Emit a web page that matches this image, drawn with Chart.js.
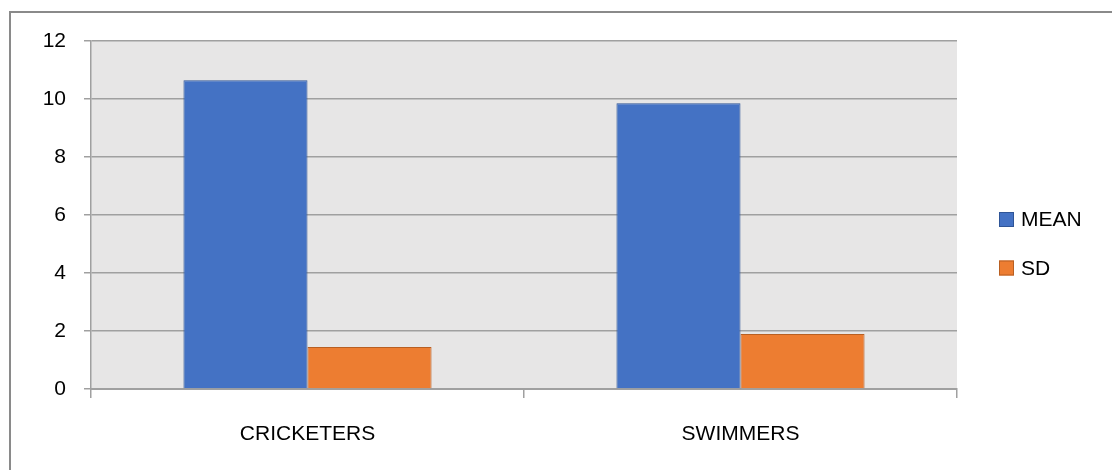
<!DOCTYPE html>
<html>
<head>
<meta charset="utf-8">
<script src="https://cdn.jsdelivr.net/npm/chart.js@4.4.1/dist/chart.umd.min.js"></script>
<style>
  html, body { margin: 0; padding: 0; background: #ffffff; }
  #wrap { position: relative; width: 1112px; height: 470px; overflow: hidden; }
  #frame { position: absolute; left: 9px; top: 11px; width: 1200px; height: 600px;
           border-left: 2px solid #8a8a8a; border-top: 2px solid #8a8a8a; box-sizing: border-box; }
  canvas { position: absolute; left: 0; top: 0; }
</style>
</head>
<body>
<div id="wrap">
  <div id="frame"></div>
  <canvas id="c" width="1112" height="470"></canvas>
</div>
<script>
const categories = ["CRICKETERS", "SWIMMERS"];
const meanValues = [10.65, 9.85];
const sdValues = [1.45, 1.9];
const yTicks = [0, 2, 4, 6, 8, 10, 12];
const seriesNames = ["MEAN", "SD"];

const FONT = "'Liberation Sans', Arial, sans-serif";

const plotBg = {
  id: 'plotBg',
  beforeDraw(chart) {
    const { ctx, chartArea: a } = chart;
    ctx.save();
    ctx.fillStyle = '#e7e6e6';
    ctx.fillRect(a.left, a.top, a.right - a.left, a.bottom - a.top);
    ctx.restore();
  }
};

const customLegend = {
  id: 'customLegend',
  afterDraw(chart) {
    const ctx = chart.ctx;
    const centers = [219.5, 268];
    ctx.save();
    chart.data.datasets.forEach((ds, i) => {
      const cy = centers[i];
      ctx.fillStyle = ds.backgroundColor;
      ctx.fillRect(999, cy - 7.5, 15, 15);
      ctx.strokeStyle = ds.borderColor;
      ctx.lineWidth = 1;
      ctx.strokeRect(999.5, cy - 7, 14, 14);
      ctx.fillStyle = '#000000';
      ctx.font = '21px ' + FONT;
      ctx.textBaseline = 'middle';
      ctx.textAlign = 'left';
      ctx.fillText(ds.label, 1021, cy + 1);
    });
    ctx.restore();
  }
};

new Chart(document.getElementById('c'), {
  type: 'bar',
  data: {
    labels: categories,
    datasets: [
      { label: seriesNames[0], data: meanValues, backgroundColor: '#4472c4', borderColor: '#2f5597', borderWidth: 1 },
      { label: seriesNames[1], data: sdValues, backgroundColor: '#ed7d31', borderColor: '#b85f22', borderWidth: 1 }
    ]
  },
  options: {
    responsive: false,
    animation: false,
    devicePixelRatio: 1,
    layout: { padding: { left: 0, top: 41, right: 155, bottom: 0 } },
    plugins: { legend: { display: false }, tooltip: { enabled: false } },
    datasets: { bar: { categoryPercentage: 0.573, barPercentage: 1.0 } },
    scales: {
      x: {
        grid: { display: true, drawOnChartArea: false, drawTicks: true, tickLength: 9, color: '#a0a0a0', lineWidth: 1.5, offset: true },
        border: { display: true, color: '#a0a0a0', width: 2 },
        ticks: { color: '#000000', font: { family: FONT, size: 21 }, padding: 24 },
        afterFit(scale) { scale.height = 470 - 389; }
      },
      y: {
        min: 0, max: 12,
        afterBuildTicks(scale) { scale.ticks = yTicks.map(v => ({ value: v })); },
        grid: { color: '#a0a0a0', lineWidth: 1.5, tickLength: 7, drawTicks: true },
        border: { display: true, color: '#a0a0a0', width: 1.5 },
        ticks: { color: '#000000', font: { family: FONT, size: 21 }, padding: 18 },
        afterFit(scale) { scale.width = 91; }
      }
    }
  },
  plugins: [plotBg, customLegend]
});
</script>
</body>
</html>
